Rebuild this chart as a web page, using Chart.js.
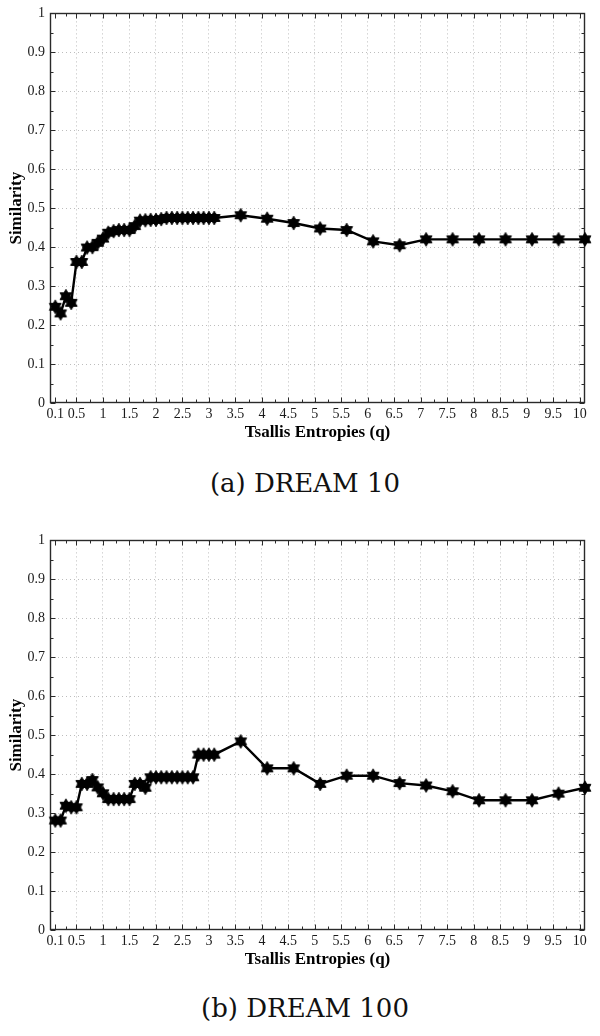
<!DOCTYPE html>
<html><head><meta charset="utf-8">
<script src="https://cdn.jsdelivr.net/npm/chart.js@4.4.1/dist/chart.umd.min.js"></script>
<style>
html,body{margin:0;padding:0;background:#fff;}
body{width:600px;height:1036px;position:relative;overflow:hidden;}
.box{position:absolute;left:0;width:600px;height:445px;}
.cap{position:absolute;left:0;width:610px;text-align:center;font-family:"DejaVu Serif",serif;font-size:26px;color:#111;line-height:30px;}
</style></head><body>
<div class="box" style="top:0px"><canvas id="c1"></canvas></div>
<div class="cap" id="cap1" style="top:468px"></div>
<div class="box" style="top:527px"><canvas id="c2"></canvas></div>
<div class="cap" id="cap2" style="top:993px"></div>
<script>
// ---- data ----
const qValues = [0.1,0.2,0.3,0.4,0.5,0.6,0.7,0.8,0.9,1.0,
                 1.1,1.2,1.3,1.4,1.5,1.6,1.7,1.8,1.9,2.0,
                 2.1,2.2,2.3,2.4,2.5,2.6,2.7,2.8,2.9,3.0,3.1,
                 3.6,4.1,4.6,5.1,5.6,6.1,6.6,7.1,7.6,8.1,8.6,9.1,9.6,10.1];
const simDream10 = [0.247,0.230,0.274,0.257,0.362,0.362,0.399,0.400,0.411,0.422,
                    0.437,0.441,0.444,0.444,0.444,0.454,0.468,0.469,0.470,0.470,
                    0.472,0.475,0.475,0.475,0.475,0.475,0.475,0.475,0.475,0.475,0.475,
                    0.482,0.473,0.462,0.448,0.444,0.415,0.405,0.420,0.420,0.420,0.420,0.420,0.420,0.420];
const simDream100 = [0.281,0.281,0.319,0.315,0.315,0.375,0.375,0.385,0.366,0.351,
                     0.336,0.336,0.336,0.336,0.336,0.375,0.375,0.365,0.392,0.392,
                     0.392,0.392,0.392,0.392,0.392,0.392,0.392,0.450,0.450,0.450,0.450,
                     0.484,0.415,0.415,0.375,0.396,0.396,0.377,0.371,0.356,0.333,0.333,0.333,0.350,0.365];
const xTickValues = [0.1,0.5,1,1.5,2,2.5,3,3.5,4,4.5,5,5.5,6,6.5,7,7.5,8,8.5,9,9.5,10];
const xTickLabels = ['0.1','0.5','1','1.5','2','2.5','3','3.5','4','4.5','5','5.5','6','6.5','7','7.5','8','8.5','9','9.5','10'];
const xMinorValues = [0.3,0.75,1.25,1.75,2.25,2.75,3.25,3.75,4.25,4.75,5.25,5.75,6.25,6.75,7.25,7.75,8.25,8.75,9.25,9.75];
const yTickValues = [0,0.1,0.2,0.3,0.4,0.5,0.6,0.7,0.8,0.9,1];
const yTickLabels = ['0','0.1','0.2','0.3','0.4','0.5','0.6','0.7','0.8','0.9','1'];
const yMinorValues = [0.05,0.15,0.25,0.35,0.45,0.55,0.65,0.75,0.85,0.95];
const xTitle = 'Tsallis Entropies (q)';
const yTitle = 'Similarity';
const captions = ['(a) DREAM 10','(b) DREAM 100'];

document.getElementById('cap1').textContent = captions[0];
document.getElementById('cap2').textContent = captions[1];

const SERIF = '"Liberation Serif","Times New Roman",serif';

function makeHexagram(r){
  const s = Math.ceil(r*2+4);
  const c = document.createElement('canvas'); c.width = s; c.height = s;
  const g = c.getContext('2d');
  g.translate(s/2, s/2);
  g.fillStyle = '#000'; g.strokeStyle = '#000'; g.lineWidth = 1; g.lineJoin = 'round';
  [-Math.PI/2, Math.PI/2].forEach(a0=>{
    g.beginPath();
    for(let k=0;k<3;k++){ const a=a0+k*2*Math.PI/3; g.lineTo(r*Math.cos(a), r*Math.sin(a)); }
    g.closePath(); g.fill(); g.stroke();
  });
  return c;
}
const star = makeHexagram(6.8);

const framePlugin = {
  id:'frame',
  beforeDatasetsDraw(chart){
    const {ctx, chartArea:a, scales} = chart;
    const xs = scales.x, ys = scales.y;
    const L = Math.round(a.left)+0.5, R = Math.round(a.right)-0.5;
    const T = Math.round(a.top)+0.5, B = Math.round(a.bottom)-0.5;
    ctx.save();
    ctx.strokeStyle = '#2a2a2a'; ctx.lineWidth = 1;
    ctx.beginPath();
    const seg = (x1,y1,x2,y2)=>{ ctx.moveTo(x1,y1); ctx.lineTo(x2,y2); };
    xTickValues.forEach(v=>{ const p=Math.round(xs.getPixelForValue(v))+0.5; seg(p,B,p,B-5); seg(p,T,p,T+5); });
    xMinorValues.forEach(v=>{ const p=Math.round(xs.getPixelForValue(v))+0.5; seg(p,B,p,B-3); seg(p,T,p,T+3); });
    yTickValues.forEach(v=>{ const p=Math.round(ys.getPixelForValue(v))+0.5; seg(L,p,L+5,p); seg(R,p,R-5,p); });
    yMinorValues.forEach(v=>{ const p=Math.round(ys.getPixelForValue(v))+0.5; seg(L,p,L+3,p); seg(R,p,R-3,p); });
    ctx.stroke();
    ctx.lineWidth = 1.4;
    ctx.strokeRect(L, T, R-L, B-T);
    ctx.restore();
  }
};

function buildChart(id, values){
  const pts = qValues.map((q,i)=>({x:q, y:values[i]}));
  return new Chart(document.getElementById(id), {
    type:'line',
    data:{datasets:[{data:pts, borderColor:'#000', borderWidth:2.4, tension:0, fill:false, clip:false,
      pointStyle:star, pointRadius:7, pointBackgroundColor:'#000', pointBorderColor:'#000'}]},
    options:{
      responsive:true, maintainAspectRatio:false, animation:false, devicePixelRatio:1,
      layout:{padding:{left:0, top:13, right:15, bottom:0}},
      plugins:{legend:{display:false}, tooltip:{enabled:false}},
      scales:{
        x:{type:'linear', min:0, max:10.1,
          afterBuildTicks:(s)=>{ s.ticks = xTickValues.map(v=>({value:v})); },
          afterFit:(s)=>{ s.height = 42; },
          ticks:{autoSkip:false, maxRotation:0, minRotation:0, padding:3, color:'#1a1a1a',
            font:{family:SERIF, size:14},
            callback:(v,i)=> xTickLabels[i]},
          grid:{drawTicks:false, lineWidth:1,
            color:(c)=> (c.tick && c.tick.value===0.1) ? 'rgba(0,0,0,0)' : '#bdbdbd'},
          border:{display:false, dash:[1,3]},
          title:{display:true, text:xTitle, color:'#000', font:{family:SERIF, size:17, weight:'bold'}, padding:{top:0, bottom:2}}
        },
        y:{type:'linear', min:0, max:1,
          afterBuildTicks:(s)=>{ s.ticks = yTickValues.map(v=>({value:v})); },
          afterFit:(s)=>{ s.width = 50; },
          ticks:{autoSkip:false, padding:5, color:'#1a1a1a',
            font:{family:SERIF, size:14},
            callback:(v,i)=> yTickLabels[i]},
          grid:{drawTicks:false, lineWidth:1,
            color:(c)=> (c.tick && (c.tick.value===0 || c.tick.value===1)) ? 'rgba(0,0,0,0)' : '#bdbdbd'},
          border:{display:false, dash:[1,3]},
          title:{display:true, text:yTitle, color:'#000', font:{family:SERIF, size:17, weight:'bold'}, padding:{top:6, bottom:0}}
        }
      }
    },
    plugins:[framePlugin]
  });
}
buildChart('c1', simDream10);
buildChart('c2', simDream100);
</script>
</body></html>
